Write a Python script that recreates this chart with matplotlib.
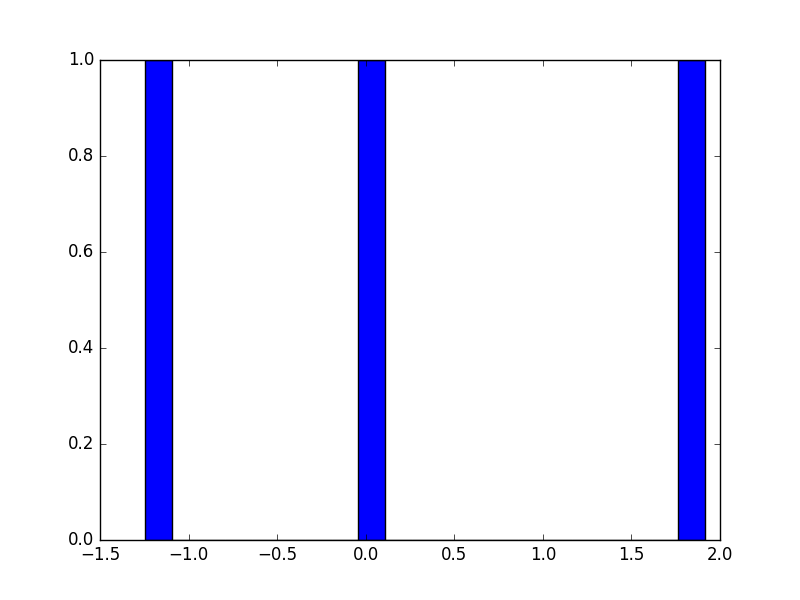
import matplotlib

matplotlib.use("Agg")
import matplotlib.pyplot as plt

plt.style.use("classic")

# three samples, one per occupied bin
values = [-1.246, 0.03, 1.915]
n_bins = 21

fig, ax = plt.subplots(figsize=(8, 6), dpi=100)
ax.hist(values, bins=n_bins)
ax.set_xlim(-1.5, 2.0)
ax.set_ylim(0, 1.0)

fig.savefig("out.png", dpi=100)
